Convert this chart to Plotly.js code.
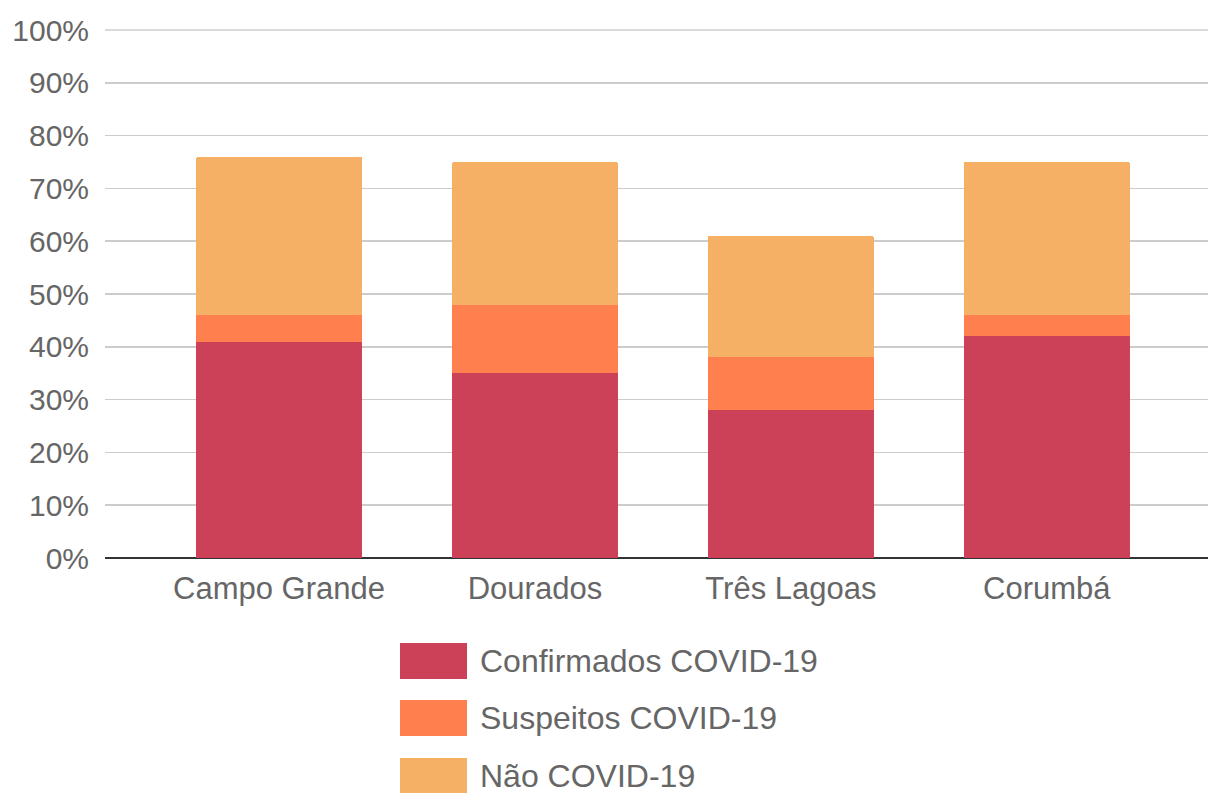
<!DOCTYPE html>
<html>
<head>
<meta charset="utf-8">
<script src="https://cdn.plot.ly/plotly-3.0.1.min.js"></script>
<style>html,body{margin:0;padding:0;background:#fff;}#chart{width:1208px;height:793px;}</style>
</head>
<body>
<div id="chart"></div>
<script>
const categories = ["Campo Grande", "Dourados", "Três Lagoas", "Corumbá"];
const confirmados = [41, 35, 28, 42];
const suspeitos = [5, 13, 10, 4];
const naoCovid = [30, 27, 23, 29];
const seriesNames = ["Confirmados COVID-19", "Suspeitos COVID-19", "Não COVID-19"];
const seriesColors = ["#cc4157", "#ff7f4f", "#f5b066"];
const yTickVals = [0, 10, 20, 30, 40, 50, 60, 70, 80, 90, 100];

const W = 1208, H = 793;
const mL = 105, mR = 0, mT = 30, mB = 235;
const plotW = W - mL - mR, plotH = H - mT - mB;
const px2x = p => (p - mL) / plotW;
const py2y = p => (H - mB - p) / plotH;
const FONT = "'Liberation Sans', Arial, sans-serif";

const seriesData = [confirmados, suspeitos, naoCovid];
const traces = seriesData.map((vals, i) => ({
  type: "bar",
  x: categories,
  y: vals,
  name: seriesNames[i],
  marker: {color: seriesColors[i], line: {width: 0}},
  hoverinfo: "x+y+name"
}));

const shapes = [{
  type: "line", xref: "paper", yref: "paper", x0: 0, x1: 1, y0: 1, y1: 1,
  line: {color: "#cccccc", width: 1.5}, layer: "below"
}];
const annotations = [];
const legendY = [661, 718, 776];
seriesNames.forEach((n, i) => {
  shapes.push({
    type: "rect", xref: "paper", yref: "paper",
    x0: px2x(400), x1: px2x(467),
    y0: py2y(legendY[i] + 18), y1: py2y(legendY[i] - 18),
    fillcolor: seriesColors[i], line: {width: 0}
  });
  annotations.push({
    xref: "paper", yref: "paper", x: px2x(478), y: py2y(legendY[i]),
    xanchor: "left", yanchor: "middle", showarrow: false,
    text: n, font: {family: FONT, size: 32, color: "#666666"}
  });
});

const layout = {
  width: W, height: H,
  margin: {l: mL, r: mR, t: mT, b: mB, pad: 0},
  paper_bgcolor: "#ffffff", plot_bgcolor: "#ffffff",
  barmode: "stack",
  bargap: 0.352,
  barcornerradius: 2,
  showlegend: false,
  font: {family: FONT, size: 30, color: "#666666"},
  xaxis: {
    type: "category",
    range: [-0.68, 3.63],
    showgrid: false, zeroline: false, showline: false,
    ticks: "", tickfont: {family: FONT, size: 31, color: "#666666"},
    ticklabelstandoff: 9
  },
  yaxis: {
    range: [0, 100],
    tickvals: yTickVals,
    ticktext: yTickVals.map(v => v + "%"),
    showgrid: true, gridcolor: "#cccccc", gridwidth: 1.5,
    zeroline: true, zerolinecolor: "#333333", zerolinewidth: 2,
    showline: false, ticks: "",
    tickfont: {family: FONT, size: 30, color: "#666666"},
    ticklabelstandoff: 15
  },
  shapes: shapes,
  annotations: annotations
};

Plotly.newPlot("chart", traces, layout, {displayModeBar: false, staticPlot: true});
</script>
</body>
</html>
